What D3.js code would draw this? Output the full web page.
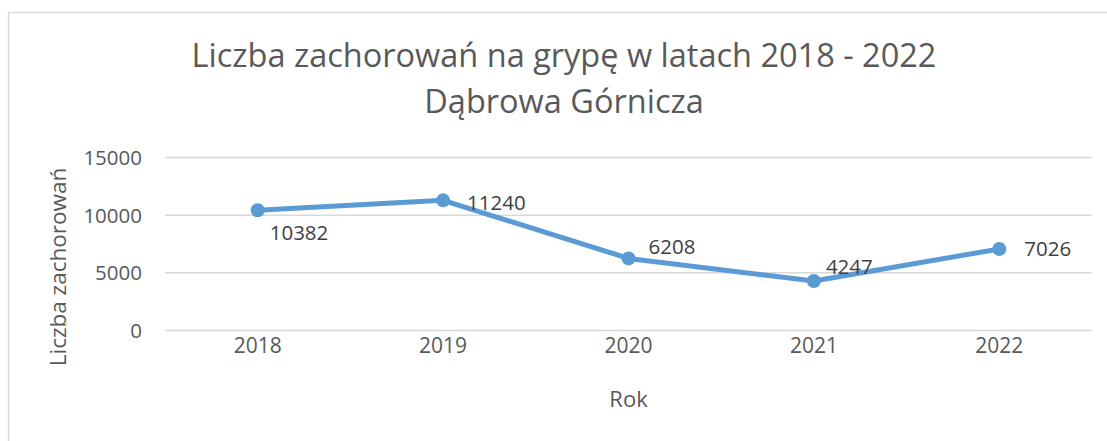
<!DOCTYPE html>
<html>
<head>
<meta charset="utf-8">
<script src="https://cdn.jsdelivr.net/npm/d3@7"></script>
<style>
  body { margin: 0; background: #fff; }
  text { font-family: "Open Sans", sans-serif; }
</style>
</head>
<body>
<svg id="chart"></svg>
<script>
// data
const years = ['2018', '2019', '2020', '2021', '2022'];
const cases = [10382, 11240, 6208, 4247, 7026];
const yTicks = [0, 5000, 10000, 15000];
const titleLines = ['Liczba zachorowań na grypę w latach 2018 - 2022', 'Dąbrowa Górnicza'];

// manual label nudges (Excel style), dx from point to label start, dy to label middle
const labelNudge = [[12, 22], [24, 2], [20, -12], [12, -14], [25, 0]];

const W = 1107, H = 441;
const margin = {top: 157, right: 15, bottom: 111, left: 165};
const width = W - margin.left - margin.right;
const height = H - margin.top - margin.bottom;

const svg = d3.select('#chart').attr('width', W).attr('height', H);

// chart area border
svg.append('rect').attr('x', 8.5).attr('y', 12.5).attr('width', W + 10).attr('height', H + 10)
    .style('fill', 'none').style('stroke', '#d9d9d9').style('stroke-width', 1.5);

const g = svg.append('g').attr('transform', 'translate(' + margin.left + ',' + margin.top + ')');

const xScale = d3.scaleBand().domain(years).range([0, width]);
const yScale = d3.scaleLinear().domain([0, 15000]).range([height, 0]);

// gridlines
g.append('g').attr('class', 'grid')
    .call(d3.axisLeft(yScale).tickValues(yTicks).tickSize(-width).tickFormat(''))
    .call(a => a.select('.domain').remove())
    .selectAll('line').style('stroke', '#d9d9d9').style('stroke-width', 1.5);

// y axis labels
g.append('g')
    .call(d3.axisLeft(yScale).tickValues(yTicks).tickSize(0).tickPadding(23).tickFormat(d3.format('d')))
    .call(a => a.select('.domain').remove())
    .selectAll('text')
        .attr('dy', '0.36em')
        .style('font-size', '20.5px').style('fill', '#595959').style('font-family', '"Open Sans", sans-serif');

// x axis labels
g.append('g').attr('transform', 'translate(0,' + height + ')')
    .call(d3.axisBottom(xScale).tickSize(0).tickPadding(23))
    .call(a => a.select('.domain').remove())
    .selectAll('text')
        .attr('dy', '0')
        .style('font-size', '21px').style('fill', '#595959').style('font-family', '"Open Sans", sans-serif');

const cx = d => xScale(d) + xScale.bandwidth() / 2;

// line
const line = d3.line().x((d, i) => cx(years[i])).y(d => yScale(d));
g.append('path').datum(cases)
    .attr('d', line)
    .style('fill', 'none').style('stroke', '#5b9bd5').style('stroke-width', 5).style('stroke-linejoin', 'round');

// markers
g.selectAll('.dot').data(cases).enter().append('circle')
    .attr('class', 'dot')
    .attr('cx', (d, i) => cx(years[i]))
    .attr('cy', d => yScale(d))
    .attr('r', 7)
    .style('fill', '#5b9bd5');

// data labels
g.selectAll('.lbl').data(cases).enter().append('text')
    .attr('class', 'lbl')
    .attr('x', (d, i) => cx(years[i]) + labelNudge[i][0])
    .attr('y', (d, i) => yScale(d) + labelNudge[i][1])
    .attr('dy', '0.36em')
    .text(d => d)
    .style('font-size', '20.5px').style('fill', '#404040');

// title
svg.append('text')
    .attr('x', 564).attr('y', 67)
    .style('font-size', '32.5px').style('fill', '#595959').style('text-anchor', 'middle')
    .selectAll('tspan').data(titleLines).enter().append('tspan')
        .attr('x', 564)
        .attr('dy', (d, i) => i === 0 ? 0 : 46)
        .text(d => d);

// axis titles
svg.append('text')
    .attr('x', margin.left + width / 2).attr('y', 407)
    .text('Rok')
    .style('font-size', '22px').style('fill', '#595959').style('text-anchor', 'middle');

svg.append('text')
    .attr('transform', 'translate(66,267) rotate(-90)')
    .text('Liczba zachorowań')
    .style('font-size', '22.5px').style('fill', '#595959').style('text-anchor', 'middle');
</script>
</body>
</html>
